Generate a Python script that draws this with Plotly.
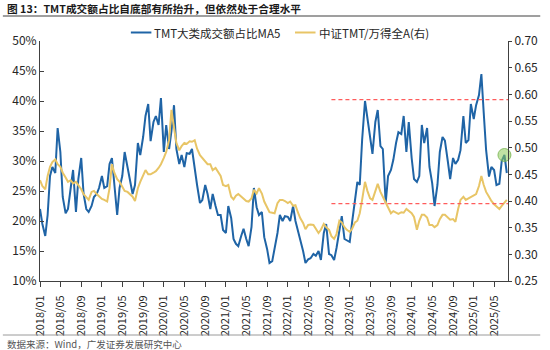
import pandas as pd
import plotly.graph_objects as go

# ---------------- data ----------------
dates = pd.date_range("2018-01-01", "2025-07-15", freq="SMS")  # 1st & 15th of each month

tmt_share_ma5 = [  # TMT大类成交额占比MA5 (%)
    22, 19.5, 17.5, 21, 27.5, 29, 28, 35.5, 31.5, 24, 21.3, 22, 25.5, 28.5, 21.5, 27, 30.5, 24.5,
    22, 21.5, 22.5, 24, 24.5, 25.5, 27.5, 25.5, 25.8, 29.5, 30.5, 25.5, 21, 25.5, 27.5, 31.5, 29,
    27, 24.5, 26, 33, 31, 34, 37.5, 39.5, 33.3, 36.5, 37.5, 36, 40.5, 31.5, 36, 32, 35, 39.3,
    32, 29.5, 31, 29, 31.3, 31.2, 32, 28.5, 26, 23, 23.5, 26, 24.5, 22, 24.5, 22.5, 21, 21,
    18.5, 18, 22.5, 20.5, 17, 16.2, 15.8, 17.5, 18.7, 17, 15.8, 19, 25.5, 22.3, 21, 21.5, 17.3, 15.3,
    13, 13.3, 15.3, 18, 21, 20, 20.8, 20.7, 20, 22.5, 20, 18.5, 16.8, 15, 13, 13.6, 13.8, 14.5,
    14.2, 15, 13.5, 18, 19.5, 14.5, 14.3, 13.5, 15.5, 18.7, 20.8, 17, 16.8, 16.5, 19.8, 23.8, 26.5, 26,
    33.5, 40, 37, 33.5, 31.2, 36.5, 38.5, 32.5, 32, 23, 27.5, 28.5, 30.2, 33, 34.8, 34.5, 37.5, 31.5,
    36.5, 30.5, 27, 26.5, 27.5, 36, 33, 35.5, 29, 26.3, 22.5, 26, 31.5, 34, 33.4, 30, 27, 30.5, 29.5,
    30.2, 31.8, 37.5, 33, 33.5, 39.5, 37, 39.3, 41, 44.5, 38, 31.8, 27.4, 29, 28.5, 26, 26.2, 30, 31, 28,
]

tmt_vs_wind_a = [  # 中证TMT/万得全A (right axis)
    0.439, 0.428, 0.422, 0.447, 0.464, 0.473, 0.478, 0.469, 0.464, 0.453, 0.444, 0.436, 0.439, 0.433,
    0.436, 0.430, 0.422, 0.413, 0.408, 0.402, 0.417, 0.419, 0.413, 0.408, 0.404, 0.402, 0.399, 0.424,
    0.469, 0.453, 0.441, 0.436, 0.428, 0.419, 0.417,
    0.413, 0.408, 0.400, 0.424, 0.436, 0.447, 0.458, 0.450, 0.450, 0.453, 0.456, 0.462, 0.469, 0.481,
    0.492, 0.514, 0.571, 0.537, 0.509, 0.495, 0.503, 0.509, 0.507, 0.512, 0.511, 0.514, 0.498, 0.486,
    0.481, 0.475, 0.469, 0.469, 0.458, 0.462, 0.455, 0.447,
    0.430, 0.428, 0.430, 0.408, 0.403, 0.410, 0.413, 0.408, 0.404, 0.400, 0.399, 0.405, 0.421, 0.414,
    0.424, 0.414, 0.399, 0.388, 0.379, 0.378, 0.377, 0.396, 0.402, 0.402, 0.400, 0.396, 0.399, 0.391,
    0.392, 0.379, 0.368, 0.359, 0.347, 0.355, 0.356, 0.355,
    0.349, 0.340, 0.346, 0.357, 0.351, 0.346, 0.334, 0.329, 0.338, 0.363, 0.360, 0.351, 0.346, 0.342,
    0.348, 0.360, 0.363, 0.377, 0.402, 0.436, 0.419, 0.405, 0.402, 0.417, 0.432, 0.417, 0.408, 0.396,
    0.385, 0.377, 0.381, 0.378, 0.376, 0.379, 0.378, 0.385,
    0.382, 0.377, 0.370, 0.346, 0.363, 0.374, 0.374, 0.369, 0.355, 0.355, 0.351, 0.355, 0.366, 0.374,
    0.374, 0.369, 0.365, 0.366, 0.361, 0.385, 0.402, 0.408, 0.402, 0.405, 0.408, 0.410, 0.413, 0.428,
    0.447, 0.430, 0.417, 0.408, 0.400, 0.394, 0.390, 0.385, 0.391, 0.396, 0.402,
]

ref_dates = ["2022-09-15", "2025-07-22"]
ref_upper = [0.59, 0.59]
ref_lower = [0.395, 0.395]

highlight_index = -2  # circled point on the share series

tick_dates = pd.date_range("2018-01-01", "2025-05-01", freq="4MS")
tick_text = [d.strftime("%Y/%m") for d in tick_dates]
left_ticks = [10, 15, 20, 25, 30, 35, 40, 45, 50]
right_ticks = [0.25, 0.30, 0.35, 0.40, 0.45, 0.50, 0.55, 0.60, 0.65, 0.70]

# ---------------- layout helpers ----------------
W, H = 550, 350
PL, PR, PT, PB = 38, 517, 41, 281
def fx(px): return (px - PL) / (PR - PL)
def fy(py): return (PB - py) / (PB - PT)

FONT = "Noto Sans CJK SC, Noto Sans, sans-serif"
BLUE = "#1f64a6"
GOLD = "#e8c566"
AXIS = "#404040"

fig = go.Figure()
fig.add_trace(go.Scatter(x=dates, y=tmt_share_ma5, mode="lines", name="TMT大类成交额占比MA5",
                         line=dict(color=BLUE, width=2), showlegend=False))
fig.add_trace(go.Scatter(x=dates, y=tmt_vs_wind_a, mode="lines", name="中证TMT/万得全A(右)",
                         line=dict(color=GOLD, width=2), yaxis="y2", showlegend=False))
for ref in (ref_upper, ref_lower):
    fig.add_trace(go.Scatter(x=ref_dates, y=ref, mode="lines", yaxis="y2", showlegend=False,
                             line=dict(color="#ff5c5c", width=1.2, dash="4px,3px")))
fig.add_trace(go.Scatter(x=[dates[highlight_index]], y=[tmt_share_ma5[highlight_index]], mode="markers",
                         showlegend=False, cliponaxis=False,
                         marker=dict(size=13, color="rgba(140,200,90,0.55)",
                                     line=dict(color="rgba(120,180,80,0.8)", width=1))))

fig.update_layout(
    width=W, height=H,
    margin=dict(l=PL, r=W - PR, t=PT, b=H - PB),
    paper_bgcolor="white", plot_bgcolor="white",
    font=dict(family=FONT, color="#262626", size=12),
    xaxis=dict(type="date", range=["2018-01-01", "2025-07-22"], tickvals=tick_dates, ticktext=tick_text,
               tickangle=-90, ticks="outside", ticklen=5, tickcolor=AXIS, showline=True, linecolor=AXIS,
               linewidth=1, showgrid=False, zeroline=False, tickfont=dict(size=11, color="#262626"),
               ticklabelstandoff=4),
    yaxis=dict(range=[10, 50], tickvals=left_ticks, ticktext=[f"{v}%" for v in left_ticks],
               ticks="inside", ticklen=4, tickcolor=AXIS, showline=True, linecolor=AXIS, linewidth=1,
               showgrid=False, zeroline=False, tickfont=dict(size=12)),
    yaxis2=dict(range=[0.25, 0.70], tickvals=right_ticks, ticktext=[f"{v:.2f}" for v in right_ticks],
                overlaying="y", side="right", ticks="outside", ticklen=3, tickcolor=AXIS,
                showline=True, linecolor=AXIS, linewidth=1, showgrid=False, zeroline=False,
                tickfont=dict(size=12)),
)

# title, separators, legend, footer
shapes = [
    dict(type="line", xref="paper", yref="paper", x0=fx(0), x1=fx(W), y0=fy(16), y1=fy(16),
         line=dict(color="#7f7f7f", width=1.5)),
    dict(type="line", xref="paper", yref="paper", x0=fx(0), x1=fx(W), y0=fy(335), y1=fy(335),
         line=dict(color="#9a9a9a", width=1)),
    dict(type="line", xref="paper", yref="paper", x0=fx(131), x1=fx(152), y0=fy(32.5), y1=fy(32.5),
         line=dict(color=BLUE, width=2)),
    dict(type="line", xref="paper", yref="paper", x0=fx(299), x1=fx(320), y0=fy(32.5), y1=fy(32.5),
         line=dict(color=GOLD, width=2)),
]
annotations = [
    dict(text="<b>图 13：TMT成交额占比自底部有所抬升，但依然处于合理水平</b>", xref="paper", yref="paper",
         x=fx(2), y=fy(8), xanchor="left", yanchor="middle", showarrow=False,
         font=dict(size=10.7, color="#1a1a1a")),
    dict(text="TMT大类成交额占比MA5", xref="paper", yref="paper", x=fx(153), y=fy(32.5),
         xanchor="left", yanchor="middle", showarrow=False, font=dict(size=11.5, color="#262626")),
    dict(text="中证TMT/万得全A(右)", xref="paper", yref="paper", x=fx(321), y=fy(32.5),
         xanchor="left", yanchor="middle", showarrow=False, font=dict(size=11.5, color="#262626")),
    dict(text="数据来源：Wind，广发证券发展研究中心", xref="paper", yref="paper", x=fx(2), y=fy(344),
         xanchor="left", yanchor="middle", showarrow=False, font=dict(size=9.5, color="#555555")),
]
fig.update_layout(shapes=shapes, annotations=annotations)

fig.write_html("out.html")
